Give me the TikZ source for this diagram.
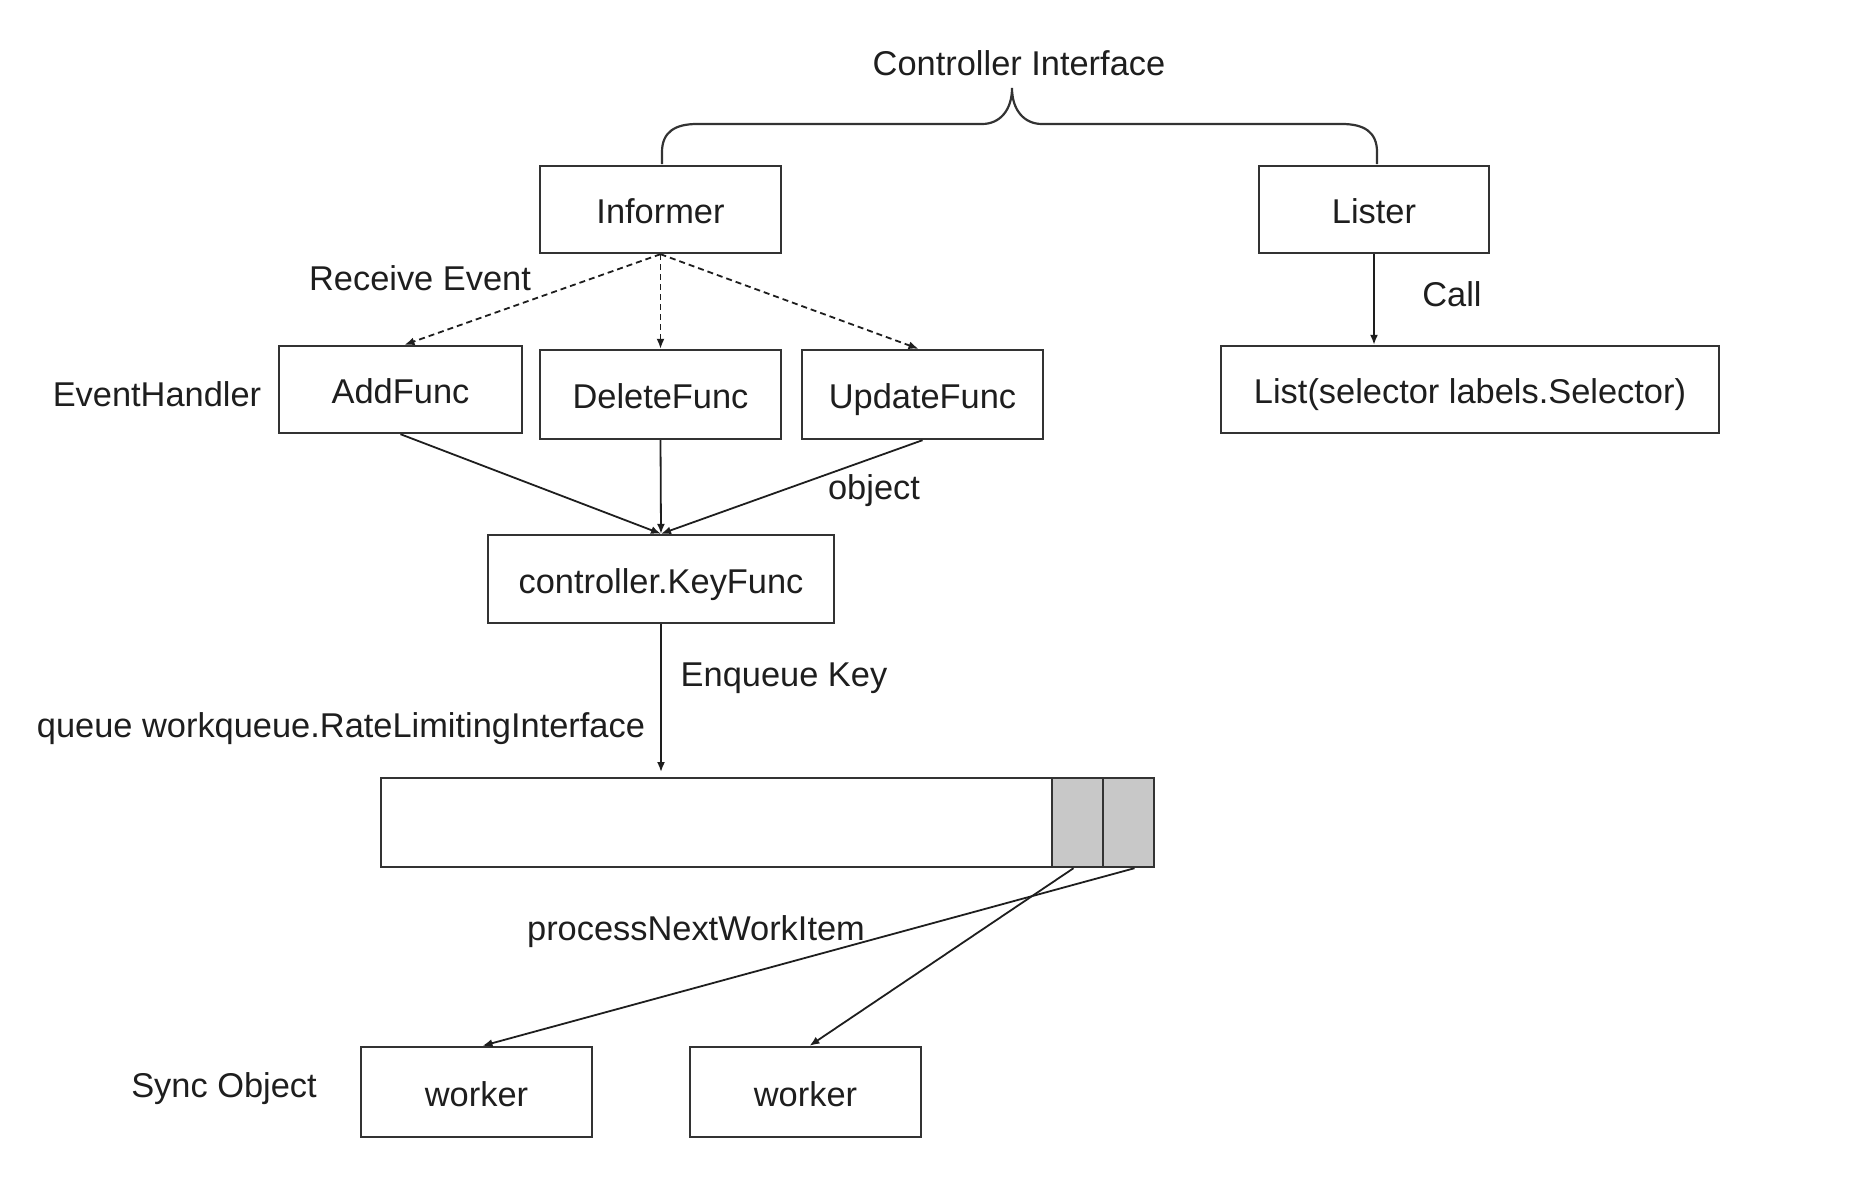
\documentclass[tikz,border=0pt]{standalone}
\usepackage{fontspec}
\setmainfont{Liberation Sans}
\usetikzlibrary{arrows.meta,calc}
\definecolor{edge}{HTML}{333333}
\definecolor{ink}{HTML}{1E1E1E}
\definecolor{cell}{HTML}{C8C8C8}
\begin{document}
\begin{tikzpicture}[x=0.5pt,y=-0.5pt,
  every node/.style={font=\fontsize{17.2}{20}\selectfont,text=ink,inner sep=0pt},
  box/.style={draw=edge,line width=1.2pt,fill=white,rectangle,text height=14pt,text depth=0pt},
  lbl/.style={text height=12.5pt,text depth=0pt},
  conn/.style={draw=ink,line width=0.9pt,-{Latex[length=5pt,width=4pt]}},
  dconn/.style={conn,dash pattern=on 3pt off 2pt}]
\useasboundingbox (0,0) rectangle (1856,1194);

% top brace and title
\node[lbl] (title) at (1019,63) {Controller Interface};
\draw[draw=edge,line width=1.1pt]
  (662,164) -- (662,152) .. controls (662,132) and (675,124) .. (697,124)
  -- (982,124) .. controls (1000,124) and (1012,110) .. (1012,88)
  .. controls (1012,110) and (1024,124) .. (1042,124)
  -- (1342,124) .. controls (1364,124) and (1377,132) .. (1377,152) -- (1377,164);

% boxes
\node[box,minimum width=120.5pt,minimum height=43.5pt] (inf) at (660.5,209.5) {Informer};
\node[box,minimum width=115pt,minimum height=43.5pt] (lister) at (1374,209.5) {Lister};
\node[box,minimum width=121.5pt,minimum height=43.5pt] (add) at (400.5,389.5) {AddFunc};
\node[box,minimum width=120.5pt,minimum height=44.5pt] (del) at (660.5,394.5) {DeleteFunc};
\node[box,minimum width=120.5pt,minimum height=44.5pt] (upd) at (922.5,394.5) {UpdateFunc};
\node[box,minimum width=249pt,minimum height=43.5pt] (list) at (1470,389.5) {List(selector labels.Selector)};
\node[box,minimum width=173pt,minimum height=44pt] (key) at (661,579) {controller.KeyFunc};

% queue
\node[box,minimum width=386.5pt,minimum height=44.5pt] (queue) at (767.5,822.5) {};
\node[box,fill=cell,minimum width=25.5pt,minimum height=44.5pt] (c1) at (1077.5,822.5) {};
\node[box,fill=cell,minimum width=25.5pt,minimum height=44.5pt] (c2) at (1128.5,822.5) {};

% workers
\node[box,minimum width=115.5pt,minimum height=45pt] (w1) at (476.5,1092) {worker};
\node[box,minimum width=115.5pt,minimum height=45pt] (w2) at (805.5,1092) {worker};

% labels
\node[lbl] (recv) at (420,278) {Receive Event};
\node[lbl] (evh) at (157,394) {EventHandler};
\node[lbl] (call) at (1452,294) {Call};
\node[lbl] (obj) at (874,487) {object};
\node[lbl] (enq) at (784,674) {Enqueue Key};
\node[lbl] (qname) at (341,725) {queue workqueue.RateLimitingInterface};
\node[lbl] (pnwi) at (696,928) {processNextWorkItem};
\node[lbl] (sync) at (224,1085) {Sync Object};

% connectors
\path[dconn] (inf.south) -- ($(add.north)+(4,0)$);
\path[dconn] (inf.south) -- (del.north);
\path[dconn] (inf.south) -- ($(upd.north)+(-4,0)$);
\path[conn] (lister.south) -- (lister.south |- list.north);
\path[conn] (add.south) -- (key.north);
\path[conn] (del.south) -- (key.north);
\path[conn] (upd.south) -- (key.north);
\coordinate (qin) at (661,772);
\path[conn] (key.south) -- (qin);
\path[conn] ($(c1.south)+(-4,0)$) -- ($(w2.north)+(4,0)$);
\path[conn] ($(c2.south)+(6,0)$) -- ($(w1.north)+(6,0)$);
\end{tikzpicture}
\end{document}
